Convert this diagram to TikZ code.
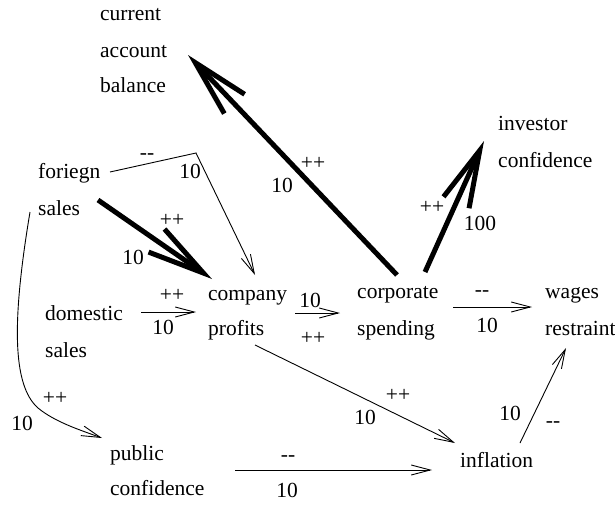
\documentclass[tikz,border=0pt]{standalone}
\usepackage{fontspec}
\setmainfont{Liberation Serif}
\usetikzlibrary{arrows.meta}
\newcommand{\mm}{-\kern0pt-}
\begin{document}
\begin{tikzpicture}[x=1pt,y=-1pt,
  every node/.style={font=\fontsize{21.5}{26}\selectfont, inner sep=0pt},
  word/.style={anchor=base west},
  lab/.style={anchor=center},
  lnk/.style={line width=0.9pt, -{Straight Barb[length=19pt,width=10pt]}},
  heavy/.style={line width=5pt, -{Straight Barb[length=57pt,width=28pt]}}]
\useasboundingbox (0,0) rectangle (615,506);
% concept texts
\node[word] (cab1) at (100,20) {current};
\node[word] (cab2) at (100,57) {account};
\node[word] (cab3) at (100,92) {balance};
\node[word] (ic1) at (498,130) {investor};
\node[word] (ic2) at (498,167) {confidence};
\node[word] (fs1) at (38,178) {foriegn};
\node[word] (fs2) at (38,215) {sales};
\node[word] (cp1) at (208,300) {company};
\node[word] (cp2) at (208,335) {profits};
\node[word] (ds1) at (45,320) {domestic};
\node[word] (ds2) at (45,357) {sales};
\node[word] (cs1) at (357,298) {corporate};
\node[word] (cs2) at (357,335) {spending};
\node[word] (wr1) at (545,298) {wages};
\node[word] (wr2) at (545,335) {restraint};
\node[word] (pc1) at (110,460) {public};
\node[word] (pc2) at (110,495) {confidence};
\node[word] (inf) at (460,467) {inflation};
% connector ends
\coordinate (csA) at (397,275); \coordinate (cabT) at (188,55);
\coordinate (csB) at (425,272); \coordinate (icT) at (484,141);
\coordinate (fsA) at (98,200);  \coordinate (cpT1) at (212,279);
\coordinate (fsB) at (110,172); \coordinate (bend) at (196,153); \coordinate (cpT2) at (255,275);
\coordinate (dsA) at (141,312); \coordinate (cpT3) at (196,312);
\coordinate (cpA) at (295,313); \coordinate (csT) at (340,313);
\coordinate (csC) at (453,307); \coordinate (wrT1) at (532,307);
\coordinate (cpB) at (255,345); \coordinate (infT1) at (455,443);
\coordinate (infA) at (520,443); \coordinate (wrT2) at (566,348);
\coordinate (pcA) at (235,470); \coordinate (infT2) at (432,470);
\coordinate (fsC) at (30,212); \coordinate (mid) at (38,408); \coordinate (pcT) at (102,438);
% connectors
\draw[heavy] (csA) -- (cabT);
\draw[heavy] (csB) -- (icT);
\draw[heavy] (fsA) -- (cpT1);
\draw[lnk] (fsB) -- (bend) -- (cpT2);
\draw[lnk] (dsA) -- (cpT3);
\draw[lnk] (cpA) -- (csT);
\draw[lnk] (csC) -- (wrT1);
\draw[lnk] (cpB) -- (infT1);
\draw[lnk] (infA) -- (wrT2);
\draw[lnk] (pcA) -- (infT2);
\draw[lnk] (fsC) .. controls (12,320) and (12,385) .. (mid) .. controls (55,422) and (80,430) .. (pcT);
% labels
\node[lab] (l1a) at (313,163) {++};
\node[lab] (l1b) at (282,185) {10};
\node[lab] (l2a) at (432,207) {++};
\node[lab] (l2b) at (480,223) {100};
\node[lab] (l3a) at (172,220) {++};
\node[lab] (l3b) at (133,257) {10};
\node[lab] (l4a) at (147,157) {\mm};
\node[lab] (l4b) at (190,171) {10};
\node[lab] (l5a) at (172,295) {++};
\node[lab] (l5b) at (163,327) {10};
\node[lab] (l6a) at (310,300) {10};
\node[lab] (l6b) at (313,338) {++};
\node[lab] (l7a) at (482,294) {\mm};
\node[lab] (l7b) at (487,325) {10};
\node[lab] (l8a) at (398,395) {++};
\node[lab] (l8b) at (365,417) {10};
\node[lab] (l9a) at (510,413) {10};
\node[lab] (l9b) at (553,425) {\mm};
\node[lab] (l10a) at (288,459) {\mm};
\node[lab] (l10b) at (287,490) {10};
\node[lab] (l11a) at (55,398) {++};
\node[lab] (l11b) at (22,423) {10};
\end{tikzpicture}
\end{document}
